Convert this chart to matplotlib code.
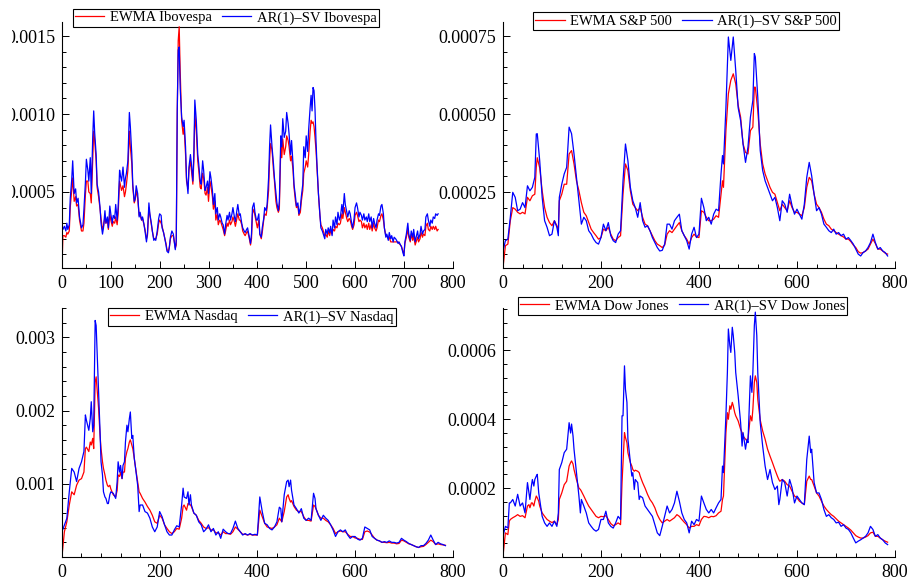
import numpy as np
import matplotlib
matplotlib.use("Agg")
import matplotlib.pyplot as plt
from matplotlib.ticker import FixedLocator, MultipleLocator, FormatStrFormatter
from matplotlib.transforms import Bbox, TransformedBbox, IdentityTransform

plt.rcParams['font.family'] = ['Liberation Serif', 'DejaVu Serif']

# values in units of 1e-4 (variance)
ibov_t = [0, 2, 5, 8, 10, 12, 15, 17, 20, 22,
          25, 28, 30, 33, 36, 40, 43, 45, 48, 50,
          53, 55, 58, 60, 63, 65, 67, 70, 72, 75,
          78, 80, 83, 85, 88, 90, 93, 95, 98, 100,
          103, 105, 108, 110, 113, 115, 118, 120, 122, 125,
          128, 130, 132, 135, 138, 140, 143, 145, 148, 150,
          152, 155, 158, 160, 163, 165, 168, 170, 173, 175,
          178, 180, 183, 185, 188, 190, 192, 195, 198, 200,
          203, 205, 208, 210, 213, 215, 218, 220, 222, 225,
          228, 230, 232, 234, 236, 238, 240, 242, 245, 248,
          250, 253, 255, 258, 260, 263, 265, 268, 270, 272,
          275, 278, 280, 283, 285, 288, 290, 293, 295, 298,
          300, 303, 305, 308, 310, 313, 315, 318, 320, 323,
          325, 328, 330, 333, 335, 338, 340, 343, 345, 348,
          350, 353, 355, 358, 360, 363, 365, 368, 370, 373,
          375, 378, 380, 383, 386, 388, 390, 393, 395, 398,
          400, 403, 405, 408, 410, 413, 415, 418, 420, 423,
          425, 427, 430, 433, 435, 438, 440, 443, 445, 448,
          450, 452, 455, 458, 460, 463, 465, 468, 470, 473,
          475, 478, 480, 483, 485, 488, 490, 493, 495, 498,
          500, 503, 505, 508, 510, 512, 514, 516, 518, 520,
          522, 525, 528, 530, 533, 535, 538, 540, 543, 545,
          548, 550, 553, 555, 558, 560, 563, 565, 568, 570,
          573, 575, 578, 580, 583, 585, 588, 590, 593, 595,
          598, 600, 603, 605, 608, 610, 613, 615, 618, 620,
          623, 625, 628, 630, 633, 635, 638, 640, 643, 645,
          648, 650, 653, 655, 658, 660, 663, 665, 668, 670,
          673, 675, 678, 680, 683, 685, 688, 690, 693, 695,
          698, 700, 702, 705, 708, 710, 713, 715, 718, 720,
          723, 725, 728, 730, 733, 735, 738, 740, 743, 745,
          748, 750, 753, 755, 758, 760, 763, 765, 768, 770]
ibov_sv = [2.9, 2.6, 2.8, 2.5, 3.0, 2.6, 2.9, 4.6, 5.8, 7.0,
           4.9, 5.2, 4.3, 4.6, 3.4, 2.7, 2.9, 3.9, 5.6, 7.1,
           6.4, 5.7, 7.2, 4.9, 8.5, 10.2, 8.8, 7.4, 5.5, 5.0,
           4.0, 3.0, 2.3, 2.7, 3.8, 3.0, 3.4, 2.7, 4.1, 3.6,
           3.0, 3.5, 3.3, 4.2, 3.2, 4.0, 6.4, 6.0, 5.7, 6.6,
           5.3, 5.9, 6.2, 7.0, 10.1, 9.2, 7.4, 5.5, 4.4, 4.6,
           5.4, 4.9, 3.4, 3.7, 3.2, 3.4, 2.9, 2.5, 1.8, 2.3,
           4.3, 3.6, 3.0, 2.5, 1.9, 2.0, 1.9, 2.5, 3.3, 3.6,
           3.5, 2.7, 2.4, 2.1, 1.6, 1.2, 1.1, 1.5, 2.1, 2.5,
           2.3, 1.8, 1.3, 1.9, 10.2, 14.1, 14.3, 11.7, 9.8, 9.2,
           9.6, 7.9, 5.9, 4.9, 6.6, 7.4, 6.8, 5.7, 7.5, 10.9,
           9.6, 7.4, 6.8, 5.7, 5.5, 7.0, 6.4, 5.1, 5.3, 5.7,
           4.9, 6.3, 5.9, 5.1, 4.2, 4.9, 3.6, 4.0, 3.2, 3.6,
           3.4, 3.0, 2.9, 2.3, 2.9, 3.5, 3.2, 3.7, 3.2, 3.6,
           4.0, 3.4, 3.1, 3.8, 4.2, 3.5, 3.6, 3.0, 2.7, 2.5,
           2.4, 2.6, 2.7, 2.2, 1.7, 2.3, 4.0, 4.3, 3.7, 3.2,
           3.2, 3.6, 2.3, 2.1, 2.7, 3.3, 4.0, 3.8, 4.2, 5.9,
           7.9, 9.3, 7.9, 6.8, 5.9, 4.9, 4.3, 3.8, 4.4, 8.6,
           7.9, 9.7, 8.5, 8.9, 10.1, 9.4, 8.7, 7.4, 8.3, 6.8,
           5.5, 4.7, 4.1, 4.3, 3.6, 4.0, 4.7, 5.5, 7.9, 7.2,
           8.6, 7.6, 9.0, 10.4, 11.2, 10.2, 11.7, 11.5, 10.3, 8.3,
           6.8, 4.9, 3.6, 2.7, 2.5, 2.3, 2.0, 2.6, 2.3, 2.7,
           2.4, 2.8, 2.2, 3.2, 2.7, 3.4, 2.9, 3.7, 3.2, 3.4,
           4.2, 3.6, 4.9, 4.2, 3.7, 3.4, 3.8, 3.6, 3.0, 2.7,
           3.3, 4.0, 4.3, 4.0, 3.4, 3.7, 3.5, 3.2, 3.6, 3.2,
           3.4, 3.1, 3.6, 3.1, 3.4, 2.7, 3.3, 3.0, 2.7, 3.2,
           3.6, 3.5, 4.1, 4.2, 3.6, 2.7, 2.1, 2.3, 1.9, 2.4,
           2.0, 2.2, 1.8, 2.1, 2.0, 1.9, 1.7, 1.8, 1.6, 1.5,
           1.1, 0.9, 1.8, 2.3, 3.0, 2.3, 1.9, 2.5, 2.1, 2.6,
           1.8, 2.1, 2.5, 2.0, 2.3, 2.8, 2.3, 2.5, 2.6, 3.4,
           3.6, 3.2, 2.8, 3.2, 3.0, 3.4, 3.3, 3.6, 3.5, 3.6]
ibov_ewma = [0.13, 2.2, 2.2, 2.1, 2.4, 2.3, 2.5, 4.0, 5.1, 5.9,
             4.4, 4.7, 4.1, 4.2, 3.2, 2.5, 2.5, 3.0, 4.8, 5.7,
             5.7, 5.0, 4.9, 4.3, 7.0, 8.9, 8.3, 7.0, 5.3, 4.7,
             3.9, 3.3, 2.6, 2.8, 3.4, 3.0, 3.2, 2.6, 3.6, 3.2,
             2.8, 3.1, 3.0, 3.4, 2.9, 3.6, 5.7, 5.4, 5.1, 5.4,
             4.7, 5.0, 5.5, 6.4, 8.9, 7.9, 6.8, 5.3, 4.3, 4.5,
             5.1, 4.6, 3.5, 3.5, 3.2, 3.3, 2.9, 2.6, 2.0, 2.2,
             4.0, 3.5, 2.9, 2.5, 2.0, 2.0, 2.0, 2.3, 3.0, 3.2,
             3.0, 2.8, 2.4, 2.1, 1.7, 1.3, 1.2, 1.5, 2.0, 2.2,
             2.2, 1.8, 1.4, 1.6, 10.0, 14.7, 15.6, 12.8, 9.6, 8.7,
             9.2, 7.4, 5.7, 5.2, 6.4, 7.0, 6.4, 5.5, 7.0, 10.0,
             8.9, 7.0, 6.4, 5.3, 5.2, 6.2, 5.9, 4.9, 4.8, 5.3,
             4.4, 5.7, 5.4, 4.7, 3.9, 4.4, 3.2, 3.6, 2.9, 3.2,
             3.1, 2.8, 2.6, 2.2, 2.5, 3.0, 2.8, 3.2, 2.9, 3.1,
             3.4, 3.1, 2.8, 3.3, 3.6, 3.2, 3.2, 2.9, 2.5, 2.3,
             2.2, 2.4, 2.5, 2.1, 1.6, 2.0, 3.6, 3.9, 3.5, 3.0,
             2.7, 3.2, 2.3, 2.0, 2.4, 3.2, 3.6, 3.5, 4.0, 5.1,
             7.0, 8.1, 7.7, 6.4, 5.7, 4.4, 4.0, 3.7, 3.9, 7.9,
             7.2, 8.4, 7.4, 7.9, 8.6, 8.3, 7.9, 7.0, 7.3, 6.4,
             5.3, 4.4, 4.0, 4.1, 3.5, 3.7, 4.4, 5.1, 6.2, 6.6,
             7.0, 6.6, 7.4, 8.9, 9.6, 9.4, 9.5, 9.2, 8.5, 7.7,
             6.6, 4.9, 3.5, 2.9, 2.7, 2.5, 2.2, 2.3, 2.1, 2.5,
             2.2, 2.5, 2.3, 2.6, 2.5, 2.8, 2.7, 3.0, 2.9, 3.0,
             3.6, 3.3, 4.0, 3.7, 3.3, 3.1, 3.3, 3.2, 2.8, 2.6,
             2.9, 3.5, 3.7, 3.5, 3.1, 3.2, 3.1, 2.7, 3.0, 2.7,
             2.9, 2.6, 3.0, 2.6, 2.9, 2.5, 3.0, 2.7, 2.5, 2.7,
             3.2, 3.1, 3.5, 3.6, 3.2, 2.7, 2.2, 2.2, 2.0, 2.1,
             1.8, 1.8, 1.8, 1.8, 1.8, 1.8, 1.8, 1.7, 1.6, 1.5,
             1.2, 1.0, 1.7, 2.1, 2.6, 2.1, 1.8, 2.3, 1.9, 2.2,
             1.6, 1.8, 2.1, 1.8, 2.0, 2.4, 2.1, 2.3, 2.2, 2.8,
             3.0, 2.6, 2.5, 2.8, 2.6, 2.8, 2.6, 2.8, 2.5, 2.6]

sp_t = [0, 5, 10, 15, 20, 25, 30, 35, 40, 45,
        50, 55, 60, 65, 68, 70, 75, 80, 85, 90,
        95, 100, 105, 110, 113, 115, 120, 125, 130, 135,
        140, 145, 150, 155, 160, 165, 170, 175, 180, 185,
        190, 195, 200, 205, 210, 215, 220, 225, 230, 235,
        240, 245, 250, 255, 260, 265, 270, 275, 280, 285,
        290, 295, 300, 305, 310, 315, 320, 325, 330, 335,
        340, 345, 350, 355, 360, 365, 370, 375, 380, 385,
        390, 395, 400, 405, 410, 415, 420, 425, 430, 435,
        440, 445, 448, 450, 455, 460, 465, 470, 475, 480,
        485, 490, 495, 500, 505, 510, 513, 515, 520, 525,
        530, 535, 540, 545, 550, 555, 560, 565, 570, 575,
        580, 585, 590, 595, 600, 605, 610, 615, 620, 625,
        630, 635, 640, 645, 650, 655, 660, 665, 670, 675,
        680, 685, 690, 695, 700, 705, 710, 715, 720, 725,
        730, 735, 740, 745, 750, 755, 760, 765, 770, 775,
        780, 785]
sp_sv = [0.6, 0.94, 0.99, 1.69, 2.49, 2.33, 1.9, 1.95, 2.16, 2.0,
         2.7, 2.54, 2.65, 2.97, 4.36, 4.37, 3.5, 2.33, 1.58, 1.37,
         1.1, 1.15, 1.58, 1.37, 1.1, 2.33, 2.75, 3.08, 3.29, 4.58,
         4.37, 3.72, 2.97, 2.22, 1.47, 1.69, 1.58, 1.26, 1.15, 0.99,
         0.88, 0.83, 1.04, 1.47, 1.26, 1.52, 1.1, 0.94, 0.88, 1.15,
         1.26, 2.86, 4.04, 3.5, 2.65, 2.22, 2.0, 1.69, 2.16, 1.58,
         1.37, 1.42, 1.26, 1.04, 0.88, 0.72, 0.61, 0.63, 0.83, 1.47,
         1.47, 1.31, 1.58, 1.69, 1.79, 1.26, 1.1, 0.94, 0.67, 1.15,
         1.37, 1.04, 1.15, 2.3, 2.0, 1.58, 1.69, 1.47, 1.79, 1.95,
         1.9, 3.08, 3.67, 3.4, 5.2, 7.47, 6.72, 7.47, 6.4, 5.2,
         4.79, 4.04, 3.45, 3.94, 4.9, 5.44, 6.94, 6.83, 5.54, 3.83,
         3.19, 2.86, 2.65, 2.43, 2.22, 2.33, 2.0, 1.58, 2.22, 2.11,
         1.85, 2.43, 2.06, 1.79, 1.95, 1.79, 1.63, 2.11, 2.97, 3.45,
         3.02, 2.43, 1.9, 2.0, 1.79, 1.47, 1.37, 1.26, 1.2, 1.31,
         1.15, 1.2, 1.1, 1.15, 0.99, 1.04, 0.94, 0.83, 0.67, 0.51,
         0.45, 0.56, 0.61, 0.72, 0.88, 1.15, 0.88, 0.67, 0.72, 0.61,
         0.56, 0.45]
sp_ewma = [0.07, 0.78, 0.83, 1.58, 2.0, 1.95, 1.85, 1.8, 1.85, 1.8,
           2.33, 2.22, 2.38, 2.43, 3.3, 3.6, 3.27, 2.54, 2.0, 1.69,
           1.52, 1.42, 1.58, 1.42, 1.26, 2.22, 2.43, 2.75, 2.75, 3.72,
           3.83, 3.4, 2.86, 2.54, 2.16, 1.85, 1.74, 1.52, 1.31, 1.2,
           1.1, 0.99, 1.04, 1.31, 1.26, 1.37, 1.15, 0.99, 0.94, 1.04,
           1.1, 2.43, 3.4, 3.19, 2.54, 2.11, 2.0, 1.9, 2.0, 1.69,
           1.47, 1.42, 1.26, 1.1, 0.94, 0.83, 0.78, 0.72, 0.8, 1.15,
           1.26, 1.2, 1.31, 1.42, 1.52, 1.26, 1.1, 0.99, 0.83, 1.04,
           1.15, 1.06, 1.04, 1.9, 1.85, 1.69, 1.58, 1.58, 1.63, 1.74,
           1.69, 2.43, 2.86, 2.65, 4.47, 5.65, 6.08, 6.29, 5.97, 5.28,
           4.9, 4.04, 3.77, 3.72, 4.47, 4.58, 5.86, 5.86, 5.11, 4.04,
           3.4, 3.08, 2.86, 2.65, 2.49, 2.43, 2.16, 1.9, 2.11, 2.0,
           1.9, 2.22, 2.0, 1.85, 1.85, 1.79, 1.74, 2.0, 2.65, 2.97,
           2.86, 2.43, 2.11, 2.0, 1.85, 1.63, 1.47, 1.42, 1.31, 1.26,
           1.2, 1.15, 1.1, 1.06, 0.99, 0.99, 0.91, 0.8, 0.72, 0.59,
           0.54, 0.56, 0.61, 0.67, 0.83, 0.99, 0.85, 0.67, 0.67, 0.61,
           0.54, 0.51]

nasdaq_t = [0, 5, 10, 15, 20, 25, 30, 35, 40, 45,
            48, 50, 55, 58, 60, 63, 65, 68, 70, 73,
            75, 78, 80, 83, 85, 88, 90, 93, 95, 98,
            100, 105, 110, 113, 115, 118, 120, 123, 125, 128,
            130, 133, 135, 138, 140, 143, 145, 148, 150, 155,
            158, 160, 165, 170, 175, 180, 185, 190, 195, 200,
            205, 210, 215, 220, 225, 230, 235, 240, 245, 248,
            250, 255, 258, 260, 263, 265, 270, 275, 280, 285,
            290, 295, 300, 305, 310, 315, 320, 325, 330, 335,
            340, 345, 350, 355, 360, 365, 370, 375, 380, 385,
            390, 395, 400, 405, 410, 415, 420, 425, 430, 435,
            440, 445, 448, 450, 455, 460, 463, 465, 468, 470,
            475, 480, 485, 490, 495, 500, 505, 510, 515, 518,
            520, 525, 530, 535, 540, 545, 550, 555, 560, 565,
            570, 575, 580, 585, 590, 595, 600, 605, 610, 615,
            620, 625, 630, 635, 640, 645, 650, 655, 660, 665,
            670, 675, 680, 685, 690, 695, 700, 705, 710, 715,
            720, 725, 730, 735, 740, 745, 750, 755, 760, 765,
            770, 775, 780, 785]
nasdaq_sv = [3.45, 4.36, 5.27, 8.9, 12.1, 11.6, 10.3, 12.1, 13.0, 14.4,
             19.4, 18.7, 17.3, 18.9, 21.2, 17.1, 18.0, 32.3, 31.6, 26.2,
             23.0, 17.1, 13.0, 11.2, 8.9, 8.2, 8.0, 7.3, 7.3, 8.5,
             8.9, 8.7, 8.0, 10.3, 13.0, 11.6, 12.5, 10.7, 12.5, 13.0,
             15.7, 18.0, 17.1, 18.9, 19.8, 16.2, 16.6, 13.5, 12.5, 9.8,
             6.2, 7.1, 7.1, 6.2, 6.0, 5.3, 4.1, 3.45, 4.1, 6.2,
             5.5, 4.4, 3.45, 3.0, 3.0, 3.7, 4.27, 4.1, 7.1, 9.4,
             8.2, 8.0, 8.9, 7.1, 8.5, 7.1, 6.0, 5.7, 4.8, 4.4,
             3.45, 3.8, 4.4, 3.45, 3.9, 3.0, 3.45, 2.55, 3.8, 3.45,
             3.2, 3.2, 3.9, 4.9, 3.9, 3.45, 3.0, 3.2, 3.0, 3.2,
             3.0, 3.1, 3.0, 8.2, 6.2, 4.6, 4.4, 3.9, 3.7, 4.1,
             4.8, 6.8, 6.6, 4.8, 8.5, 10.3, 10.5, 9.6, 10.5, 9.1,
             7.1, 6.6, 6.0, 6.6, 5.3, 5.0, 5.3, 5.0, 8.7, 8.0,
             6.6, 5.7, 5.0, 5.7, 5.3, 5.0, 4.4, 3.7, 2.8, 3.45,
             3.7, 3.45, 3.7, 3.0, 2.55, 2.8, 2.8, 2.45, 2.3, 2.55,
             4.1, 3.9, 3.7, 2.8, 2.55, 2.3, 2.2, 2.0, 2.1, 2.0,
             2.2, 2.0, 2.0, 1.9, 2.0, 2.55, 2.3, 2.1, 1.85, 1.7,
             1.55, 1.4, 1.3, 1.55, 1.55, 1.85, 2.3, 3.0, 2.3, 1.7,
             2.0, 1.8, 1.7, 1.55]
nasdaq_ewma = [0.05, 3.45, 4.8, 7.1, 8.9, 8.5, 9.8, 10.5, 10.7, 11.6,
               14.8, 15.0, 14.4, 15.7, 15.3, 16.2, 14.8, 23.9, 24.6, 22.1,
               20.3, 16.6, 14.8, 13.0, 12.1, 11.2, 10.5, 9.8, 9.6, 9.8,
               9.3, 8.5, 8.2, 9.1, 11.2, 11.0, 11.6, 10.7, 11.6, 11.6,
               13.5, 14.4, 14.8, 15.7, 16.0, 15.3, 14.8, 13.5, 12.5, 10.3,
               8.9, 8.7, 8.0, 7.5, 6.9, 6.4, 5.7, 4.8, 4.6, 5.7,
               5.3, 4.4, 3.9, 3.45, 3.2, 3.45, 3.9, 3.8, 5.3, 6.9,
               7.1, 6.4, 7.3, 7.3, 7.1, 6.9, 6.0, 5.7, 5.0, 4.6,
               4.1, 3.9, 4.0, 3.7, 3.7, 3.3, 3.3, 3.0, 3.45, 3.2,
               3.2, 3.1, 3.45, 4.1, 3.8, 3.45, 3.1, 3.1, 3.0, 3.1,
               3.0, 3.0, 3.0, 6.4, 5.5, 4.6, 4.1, 4.0, 3.9, 4.1,
               4.4, 5.3, 5.0, 4.8, 6.2, 8.2, 8.5, 8.0, 7.5, 7.7,
               6.9, 6.4, 6.2, 6.2, 5.5, 5.0, 5.0, 4.9, 7.1, 6.9,
               6.6, 5.7, 5.3, 5.3, 5.0, 4.8, 4.4, 3.9, 3.2, 3.45,
               3.55, 3.45, 3.45, 3.1, 2.8, 2.8, 2.6, 2.55, 2.4, 2.4,
               3.45, 3.55, 3.4, 3.0, 2.55, 2.3, 2.2, 2.0, 2.0, 1.95,
               2.0, 1.9, 1.9, 1.8, 1.85, 2.3, 2.2, 2.0, 1.8, 1.7,
               1.55, 1.4, 1.3, 1.4, 1.45, 1.7, 2.0, 2.3, 2.1, 1.7,
               1.8, 1.7, 1.65, 1.6]

dow_t = [0, 5, 10, 13, 15, 20, 25, 30, 35, 40,
         45, 50, 53, 55, 58, 60, 63, 65, 68, 70,
         73, 75, 80, 85, 90, 95, 100, 105, 110, 113,
         115, 120, 125, 130, 135, 138, 140, 143, 145, 150,
         155, 158, 160, 165, 170, 175, 180, 185, 190, 195,
         200, 205, 210, 215, 220, 225, 230, 235, 240, 243,
         245, 248, 250, 253, 255, 260, 263, 265, 268, 270,
         275, 278, 280, 285, 290, 295, 300, 305, 310, 315,
         320, 325, 330, 335, 340, 345, 350, 355, 360, 365,
         370, 375, 380, 385, 390, 395, 400, 405, 410, 415,
         420, 425, 430, 435, 440, 445, 448, 450, 455, 458,
         460, 463, 465, 468, 470, 473, 475, 480, 485, 488,
         490, 495, 498, 500, 505, 508, 510, 513, 515, 518,
         520, 525, 530, 535, 540, 545, 550, 555, 560, 563,
         565, 570, 575, 580, 585, 590, 595, 600, 605, 610,
         615, 620, 625, 628, 630, 635, 640, 645, 650, 655,
         660, 665, 670, 675, 680, 685, 690, 695, 700, 705,
         710, 715, 720, 725, 730, 735, 740, 745, 750, 755,
         760, 765, 770, 775, 780, 785]
dow_sv = [0.6, 0.89, 0.84, 1.57, 1.57, 1.67, 1.48, 1.82, 1.48, 1.57,
          1.28, 2.16, 1.86, 1.67, 2.06, 2.25, 2.06, 2.25, 2.35, 2.4,
          1.86, 1.67, 1.18, 0.99, 0.89, 0.99, 0.89, 1.04, 0.89, 1.28,
          2.54, 2.74, 3.03, 3.13, 3.9, 3.6, 3.86, 3.51, 3.13, 2.45,
          1.77, 1.28, 1.67, 1.48, 1.28, 0.99, 0.89, 0.8, 0.75, 0.8,
          1.09, 1.09, 1.33, 0.99, 0.89, 0.84, 0.99, 1.18, 1.09, 4.1,
          4.1, 5.55, 4.87, 4.49, 3.42, 2.74, 2.35, 2.45, 1.96, 2.25,
          2.16, 1.67, 1.77, 1.72, 1.48, 1.38, 1.28, 1.18, 0.94, 0.7,
          0.62, 0.89, 1.18, 1.48, 1.28, 1.38, 1.57, 1.91, 1.62, 1.28,
          1.09, 0.99, 0.7, 1.04, 0.94, 1.09, 1.04, 1.77, 1.57, 1.38,
          1.28, 1.38, 1.28, 1.43, 1.57, 1.67, 2.64, 2.45, 4.1, 5.36,
          6.62, 6.14, 5.94, 6.67, 6.43, 5.94, 5.36, 4.68, 3.9, 3.22,
          3.61, 3.13, 3.42, 3.32, 5.26, 4.78, 5.36, 6.72, 7.11, 6.43,
          5.36, 3.9, 3.22, 2.64, 2.25, 2.54, 2.16, 1.96, 2.06, 1.52,
          1.67, 2.25, 2.16, 1.77, 2.25, 2.01, 1.57, 1.77, 1.67, 1.57,
          1.52, 2.83, 3.51, 3.03, 3.13, 2.16, 1.86, 1.86, 1.67, 1.38,
          1.18, 1.23, 1.14, 1.09, 0.99, 1.01, 0.89, 0.94, 0.84, 0.8,
          0.7, 0.55, 0.41, 0.46, 0.5, 0.55, 0.6, 0.7, 0.89, 0.8,
          0.6, 0.65, 0.55, 0.5, 0.41, 0.36]
dow_ewma = [0.02, 0.7, 0.65, 1.04, 1.09, 1.14, 1.18, 1.23, 1.18, 1.2,
            1.14, 1.48, 1.52, 1.43, 1.57, 1.57, 1.48, 1.62, 1.77, 1.72,
            1.62, 1.48, 1.28, 1.18, 1.09, 1.04, 1.0, 1.04, 0.94, 1.09,
            1.67, 1.86, 2.1, 2.2, 2.64, 2.74, 2.79, 2.7, 2.54, 2.25,
            2.0, 1.96, 1.91, 1.77, 1.62, 1.48, 1.38, 1.28, 1.18, 1.14,
            1.18, 1.17, 1.2, 1.09, 0.97, 0.91, 0.94, 0.99, 0.94, 2.16,
            2.74, 3.61, 3.47, 3.32, 3.03, 2.74, 2.64, 2.54, 2.49, 2.52,
            2.49, 2.45, 2.35, 2.16, 2.0, 1.82, 1.67, 1.57, 1.43, 1.23,
            1.09, 0.99, 1.04, 1.09, 1.04, 1.09, 1.14, 1.23, 1.18, 1.09,
            1.01, 0.94, 0.84, 0.89, 0.89, 0.94, 0.91, 1.09, 1.18, 1.17,
            1.14, 1.18, 1.17, 1.2, 1.28, 1.33, 1.67, 1.77, 3.61, 4.19,
            4.0, 4.39, 4.29, 4.49, 4.39, 4.19, 4.1, 3.95, 3.71, 3.61,
            3.51, 3.42, 3.37, 3.42, 4.1, 3.95, 4.29, 5.07, 5.26, 5.07,
            4.58, 3.98, 3.66, 3.42, 3.13, 2.93, 2.74, 2.54, 2.35, 2.25,
            2.2, 2.25, 2.2, 2.1, 2.06, 1.91, 1.77, 1.72, 1.62, 1.57,
            1.52, 2.2, 2.35, 2.25, 2.25, 2.06, 1.86, 1.77, 1.62, 1.48,
            1.38, 1.3, 1.23, 1.18, 1.11, 1.04, 0.99, 0.94, 0.89, 0.84,
            0.78, 0.7, 0.62, 0.58, 0.55, 0.55, 0.58, 0.62, 0.7, 0.72,
            0.6, 0.6, 0.55, 0.5, 0.46, 0.43]

fig = plt.figure(figsize=(9.11, 5.81), dpi=100)


def draw_panel(rect, t, ewma, sv, name, ylim, yticks, yfmt, yminor,
               xmajor, xminor, leg_anchor):
    ax = fig.add_axes(rect)
    ax.plot(t, np.array(ewma) * 1e-4, color='red', lw=0.9,
            label=f'EWMA {name}')
    ax.plot(t, np.array(sv) * 1e-4, color='blue', lw=0.9,
            label=f'AR(1)–SV {name}')
    ax.set_xlim(0, 800)
    ax.set_ylim(*ylim)
    ax.xaxis.set_major_locator(MultipleLocator(xmajor))
    ax.xaxis.set_minor_locator(MultipleLocator(xminor))
    ax.yaxis.set_major_locator(FixedLocator(yticks))
    ax.yaxis.set_major_formatter(FormatStrFormatter(yfmt))
    ax.yaxis.set_minor_locator(MultipleLocator(yminor))
    for s in ('top', 'right'):
        ax.spines[s].set_visible(False)
    for s in ('left', 'bottom'):
        ax.spines[s].set_linewidth(0.8)
    ax.tick_params(which='both', direction='in', top=False, right=False,
                   labelsize=13, width=0.7)
    ax.tick_params(which='major', length=5, pad=5)
    ax.tick_params(which='minor', length=3)
    leg = ax.legend(loc='upper left', bbox_to_anchor=leg_anchor, ncol=2,
                    fontsize=10.5, fancybox=False, framealpha=1,
                    edgecolor='black', borderaxespad=0, borderpad=0.15,
                    handlelength=2.0, handletextpad=0.4, columnspacing=0.7)
    leg.get_frame().set_linewidth(0.8)
    leg.set_zorder(1.5)
    return ax


ax1 = draw_panel([0.068, 0.5387, 0.429, 0.4234], ibov_t, ibov_ewma, ibov_sv,
                 'Ibovespa', (0.0000125, 0.00159), [0.0005, 0.0010, 0.0015],
                 '%.4f', 0.0001, 100, 50, (0.028, 1.053))
draw_panel([0.5521, 0.5387, 0.4303, 0.4234], sp_t, sp_ewma, sp_sv,
           'S&P 500', (0.0000064, 0.000795), [0.00025, 0.0005, 0.00075],
           '%.5f', 0.00005, 200, 40, (0.077, 1.04))
draw_panel([0.068, 0.0413, 0.429, 0.4286], nasdaq_t, nasdaq_ewma, nasdaq_sv,
           'Nasdaq', (0.0, 0.0034), [0.001, 0.002, 0.003],
           '%.3f', 0.0002, 200, 40, (0.118, 1.0))
draw_panel([0.5521, 0.0413, 0.4303, 0.4286], dow_t, dow_ewma, dow_sv,
           'Dow Jones', (0.0, 0.000723), [0.0002, 0.0004, 0.0006],
           '%.4f', 0.00004, 200, 40, (0.038, 1.044))

# the top-left panel's y labels are cut at the left edge in the source image
clip = TransformedBbox(Bbox([[12, 0], [911, 581]]), IdentityTransform())
for lab in ax1.get_yticklabels():
    lab.set_clip_box(clip)
    lab.set_clip_on(True)

fig.savefig('out.png', dpi=100)
